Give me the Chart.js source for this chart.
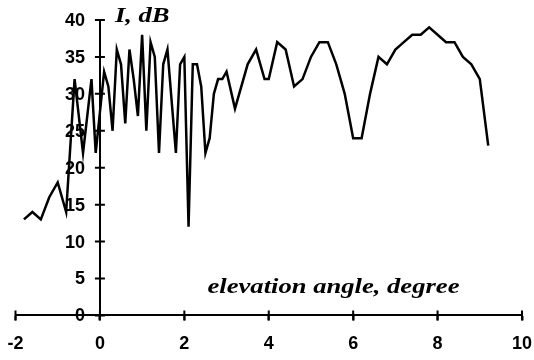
<!DOCTYPE html>
<html>
<head>
<meta charset="utf-8">
<script src="https://cdn.jsdelivr.net/npm/chart.js@4.4.0/dist/chart.umd.min.js"></script>
<style>
  html, body { margin: 0; padding: 0; background: #fff; }
  #wrap { width: 534px; height: 360px; }
</style>
</head>
<body>
<div id="wrap"><canvas id="elevChart" width="534" height="360"></canvas></div>
<script>
// elevation angle (degree) and intensity (dB)
const angles = [-1.8, -1.6, -1.4, -1.2, -1.0, -0.8, -0.6, -0.4, -0.2, -0.1,
    0.1, 0.2, 0.3, 0.4, 0.5, 0.6, 0.7, 0.8, 0.9, 1.0, 1.1, 1.2, 1.3, 1.4, 1.5, 1.6,
    1.8, 1.9, 2.0, 2.1, 2.2, 2.3, 2.4, 2.5, 2.6, 2.7, 2.8, 2.9, 3.0,
    3.2, 3.5, 3.7, 3.9, 4.0,
    4.2, 4.4, 4.6, 4.8, 5.0, 5.2, 5.4, 5.6, 5.8, 6.0, 6.2, 6.4, 6.6, 6.8,
    7.0, 7.2, 7.4, 7.6, 7.8, 8.0, 8.2, 8.4, 8.6, 8.8, 9.0, 9.2];
const intensity = [13, 14, 13, 16, 18, 14, 32, 22, 32, 22,
    33, 31, 25, 36, 34, 26, 36, 32, 27, 38, 25, 37, 35, 22, 34, 36,
    22, 34, 35, 12, 34, 34, 31, 22, 24, 30, 32, 32, 33,
    28, 34, 36, 32, 32,
    37, 36, 31, 32, 35, 37, 37, 34, 30, 24, 24, 30, 35, 34,
    36, 37, 38, 38, 39, 38, 37, 37, 35, 34, 32, 23];
const xTicks = [-2, 0, 2, 4, 6, 8, 10];
const yTicks = [0, 5, 10, 15, 20, 25, 30, 35, 40];
const yTitle = 'I, dB';
const xTitle = 'elevation angle, degree';

const points = angles.map(function(a, i) {
    return { x: a, y: intensity[i] };
});

// crossing tick marks, y tick labels beside the y axis at x = 0, and the titles
const axisDecor = {
    id: 'axisDecor',
    afterDraw: function(chart) {
        const ctx = chart.ctx;
        const xs = chart.scales.x;
        const ys = chart.scales.y;
        const x0 = xs.getPixelForValue(0);
        const y0 = ys.getPixelForValue(0);
        ctx.save();
        ctx.strokeStyle = '#000';
        ctx.lineWidth = 2;
        ctx.beginPath();
        yTicks.forEach(function(v) {
            const py = ys.getPixelForValue(v);
            ctx.moveTo(x0 - 5, py);
            ctx.lineTo(x0 + 5, py);
        });
        xTicks.forEach(function(v) {
            const px = xs.getPixelForValue(v);
            ctx.moveTo(px, y0 + 5);
            ctx.lineTo(px, y0 - 5);
        });
        ctx.stroke();

        ctx.fillStyle = '#000';
        ctx.font = 'bold 18px "Liberation Sans"';
        ctx.textAlign = 'right';
        ctx.textBaseline = 'middle';
        yTicks.forEach(function(v) {
            ctx.fillText(String(v), x0 - 15, ys.getPixelForValue(v) + 1);
        });

        ctx.font = 'italic bold 20px "Liberation Serif"';
        ctx.textBaseline = 'alphabetic';
        ctx.textAlign = 'left';
        ctx.save();
        ctx.translate(x0 + 15, ys.top + 2);
        ctx.scale(1.33, 1);
        ctx.fillText(yTitle, 0, 0);
        ctx.restore();
        ctx.save();
        ctx.translate(xs.getPixelForValue(2.55), y0 - 22);
        ctx.scale(1.33, 1);
        ctx.fillText(xTitle, 0, 0);
        ctx.restore();
        ctx.restore();
    }
};

document.addEventListener('DOMContentLoaded', function() {
    const ctx = document.getElementById('elevChart').getContext('2d');

    new Chart(ctx, {
        type: 'scatter',
        data: {
            datasets: [{
                data: points,
                showLine: true,
                borderColor: '#000',
                borderWidth: 2.5,
                pointRadius: 0,
                tension: 0
            }]
        },
        options: {
            responsive: false,
            animation: false,
            layout: {
                padding: { left: 15.5, right: 12, top: 20, bottom: -8 }
            },
            plugins: {
                legend: { display: false },
                tooltip: { enabled: false }
            },
            scales: {
                x: {
                    type: 'linear',
                    position: 'bottom',
                    min: -2,
                    max: 10,
                    afterBuildTicks: function(scale) {
                        scale.ticks = xTicks.map(function(v) { return { value: v }; });
                    },
                    afterFit: function(scale) {
                        scale.paddingLeft = 0;
                        scale.paddingRight = 0;
                    },
                    border: { color: '#000', width: 2 },
                    grid: {
                        drawOnChartArea: false,
                        drawTicks: true,
                        tickLength: 5,
                        tickWidth: 2,
                        tickColor: '#000'
                    },
                    ticks: {
                        color: '#000',
                        padding: 13,
                        maxRotation: 0,
                        font: { family: '"Liberation Sans"', size: 18, weight: 'bold' }
                    }
                },
                y: {
                    type: 'linear',
                    position: { x: 0 },
                    min: 0,
                    max: 40,
                    afterBuildTicks: function(scale) {
                        scale.ticks = yTicks.map(function(v) { return { value: v }; });
                    },
                    border: { color: '#000', width: 2 },
                    grid: {
                        drawOnChartArea: false,
                        drawTicks: false
                    },
                    ticks: {
                        display: false
                    }
                }
            }
        },
        plugins: [axisDecor]
    });
});
</script>
</body>
</html>
